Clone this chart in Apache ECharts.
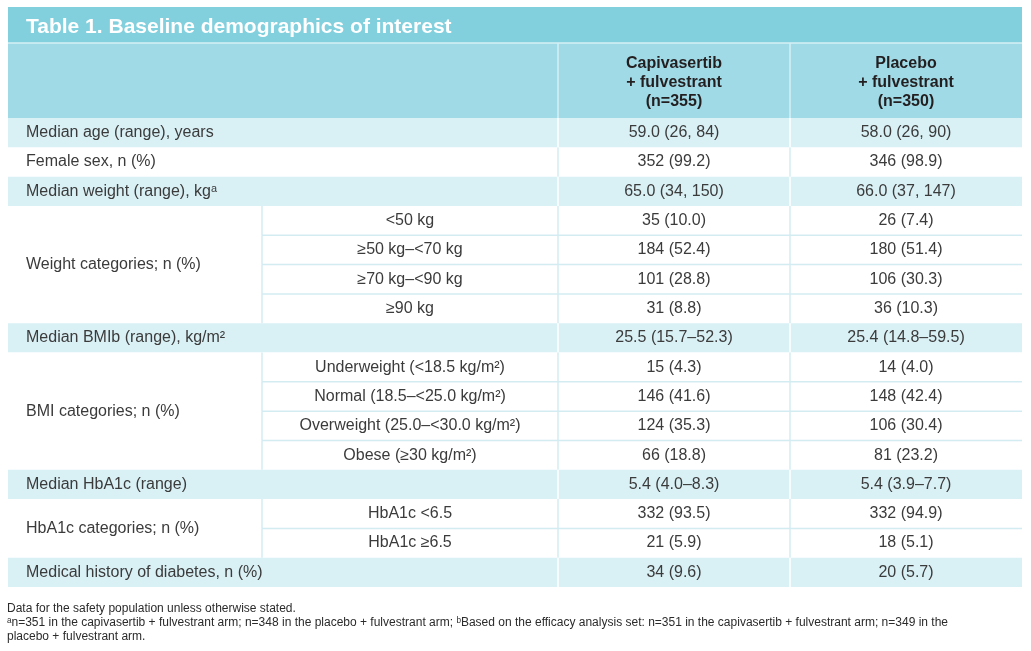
<!DOCTYPE html>
<html>
<head>
<meta charset="utf-8">
<script src="https://cdn.jsdelivr.net/npm/echarts@6/dist/echarts.min.js"></script>
<style>html,body{margin:0;padding:0;background:#fff}#c{width:1031px;height:651px}</style>
</head>
<body>
<div id="c"></div>
<script>
// ---- data ----
const titleText = 'Table 1. Baseline demographics of interest';
const armHeaders = ['Capivasertib\n+ fulvestrant\n(n=355)', 'Placebo\n+ fulvestrant\n(n=350)'];
const rowLabels = [
  'Median age (range), years',
  'Female sex, n (%)',
  'Median weight (range), kg\u1D43',
  'Weight categories; n (%)',
  'Median BMIb (range), kg/m\u00B2',
  'BMI categories; n (%)',
  'Median HbA1c (range)',
  'HbA1c categories; n (%)',
  'Medical history of diabetes, n (%)'
];
const subLabels = [
  [], [], [],
  ['<50 kg', '\u226550 kg\u2013<70 kg', '\u226570 kg\u2013<90 kg', '\u226590 kg'],
  [],
  ['Underweight (<18.5 kg/m\u00B2)', 'Normal (18.5\u2013<25.0 kg/m\u00B2)', 'Overweight (25.0\u2013<30.0 kg/m\u00B2)', 'Obese (\u226530 kg/m\u00B2)'],
  [],
  ['HbA1c <6.5', 'HbA1c \u22656.5'],
  []
];
const capiValues = ['59.0 (26, 84)', '352 (99.2)', '65.0 (34, 150)', '35 (10.0)', '184 (52.4)', '101 (28.8)', '31 (8.8)',
  '25.5 (15.7\u201352.3)', '15 (4.3)', '146 (41.6)', '124 (35.3)', '66 (18.8)', '5.4 (4.0\u20138.3)', '332 (93.5)', '21 (5.9)', '34 (9.6)'];
const placeboValues = ['58.0 (26, 90)', '346 (98.9)', '66.0 (37, 147)', '26 (7.4)', '180 (51.4)', '106 (30.3)', '36 (10.3)',
  '25.4 (14.8\u201359.5)', '14 (4.0)', '148 (42.4)', '106 (30.4)', '81 (23.2)', '5.4 (3.9\u20137.7)', '332 (94.9)', '18 (5.1)', '20 (5.7)'];
const footnotes = [
  'Data for the safety population unless otherwise stated.',
  '\u1D43n=351 in the capivasertib + fulvestrant arm; n=348 in the placebo + fulvestrant arm; \u1D47Based on the efficacy analysis set: n=351 in the capivasertib + fulvestrant arm; n=349 in the',
  'placebo + fulvestrant arm.'
];

// ---- layout (axis units) ----
const colEdges = [0, 254, 550, 782, 1014];
const TITLE_H = 1.23, HEAD_H = 2.56;
const FONT = '"Liberation Sans", Arial, Helvetica, sans-serif';
const LIGHT = '#d3ecf2';
const styles = {
  title:  { fill: '#82d0de', line: '#e6f5f8', color: '#ffffff', size: 21, weight: 'bold', dy: 2 },
  header: { fill: '#a0dae6', line: '#d6eff4', color: '#231f20', size: 16, weight: 'bold', dy: 2 },
  shade:  { fill: '#d9f0f5', line: '#ffffff', color: '#3b3b3b', size: 16, weight: 'normal', dy: 0 },
  plain:  { fill: '#ffffff', line: LIGHT, color: '#3b3b3b', size: 16, weight: 'normal', dy: 0 }
};

const cells = [];
cells.push({ c0: 0, c1: 4, r0: -(TITLE_H + HEAD_H), r1: -HEAD_H, text: titleText, kind: 'title', align: 'left' });
cells.push({ c0: 0, c1: 2, r0: -HEAD_H, r1: 0, text: '', kind: 'header', top: true });
armHeaders.forEach((h, i) => cells.push({ c0: 2 + i, c1: 3 + i, r0: -HEAD_H, r1: 0, text: h, kind: 'header', left: true, top: true }));

let r = 0, vi = 0;
rowLabels.forEach((lab, g) => {
  const subs = subLabels[g];
  if (!subs.length) {
    const kind = g % 2 === 0 ? 'shade' : 'plain';
    cells.push({ c0: 0, c1: 2, r0: r, r1: r + 1, text: lab, kind, align: 'left' });
    cells.push({ c0: 2, c1: 3, r0: r, r1: r + 1, text: capiValues[vi], kind, left: true });
    cells.push({ c0: 3, c1: 4, r0: r, r1: r + 1, text: placeboValues[vi], kind, left: true });
    r++; vi++;
  } else {
    cells.push({ c0: 0, c1: 1, r0: r, r1: r + subs.length, text: lab, kind: 'plain', align: 'left' });
    subs.forEach((s, k) => {
      cells.push({ c0: 1, c1: 2, r0: r + k, r1: r + k + 1, text: s, kind: 'plain', left: true, top: k > 0 });
      cells.push({ c0: 2, c1: 3, r0: r + k, r1: r + k + 1, text: capiValues[vi], kind: 'plain', left: true, top: k > 0 });
      cells.push({ c0: 3, c1: 4, r0: r + k, r1: r + k + 1, text: placeboValues[vi], kind: 'plain', left: true, top: k > 0 });
      vi++;
    });
    r += subs.length;
  }
});
const totalRows = r;

const chart = echarts.init(document.getElementById('c'), null, { renderer: 'canvas' });
chart.setOption({
  animation: false,
  backgroundColor: '#ffffff',
  grid: { left: 8, right: 9, top: 7, bottom: 64 },
  xAxis: { type: 'value', min: colEdges[0], max: colEdges[colEdges.length - 1], show: false },
  yAxis: { type: 'value', min: -(TITLE_H + HEAD_H), max: totalRows, inverse: true, show: false },
  graphic: [{
    type: 'text', left: 7, top: 602,
    style: { text: footnotes.join('\n'), fontSize: 12, lineHeight: 14, fontFamily: FONT, fill: '#2b2b2b' }
  }],
  series: [{
    type: 'custom',
    coordinateSystem: 'cartesian2d',
    data: cells.map(c => [colEdges[c.c0], colEdges[c.c1], c.r0, c.r1]),
    encode: { x: [0, 1], y: [2, 3] },
    renderItem: function (params, api) {
      const cell = cells[params.dataIndex];
      const st = styles[cell.kind];
      const p0 = api.coord([api.value(0), api.value(2)]);
      const p1 = api.coord([api.value(1), api.value(3)]);
      const x = p0[0], y = p0[1], w = p1[0] - p0[0], h = p1[1] - p0[1];
      const children = [{ type: 'rect', shape: { x, y, width: w, height: h }, style: { fill: st.fill } }];
      if (cell.left) children.push({ type: 'line', shape: { x1: x, y1: y, x2: x, y2: y + h }, style: { stroke: st.line, lineWidth: 1.5 } });
      if (cell.top) children.push({ type: 'line', shape: { x1: x, y1: y, x2: x + w, y2: y }, style: { stroke: st.line, lineWidth: 1.5 } });
      if (cell.text) {
        const left = cell.align === 'left';
        children.push({
          type: 'text',
          x: left ? x + 18 : x + w / 2,
          y: y + h / 2 + st.dy,
          style: {
            text: cell.text,
            align: left ? 'left' : 'center',
            verticalAlign: 'middle',
            fontSize: st.size,
            fontWeight: st.weight,
            fontFamily: FONT,
            lineHeight: cell.kind === 'header' ? 19 : st.size + 3,
            fill: st.color
          }
        });
      }
      return { type: 'group', children };
    }
  }]
});
</script>
</body>
</html>
